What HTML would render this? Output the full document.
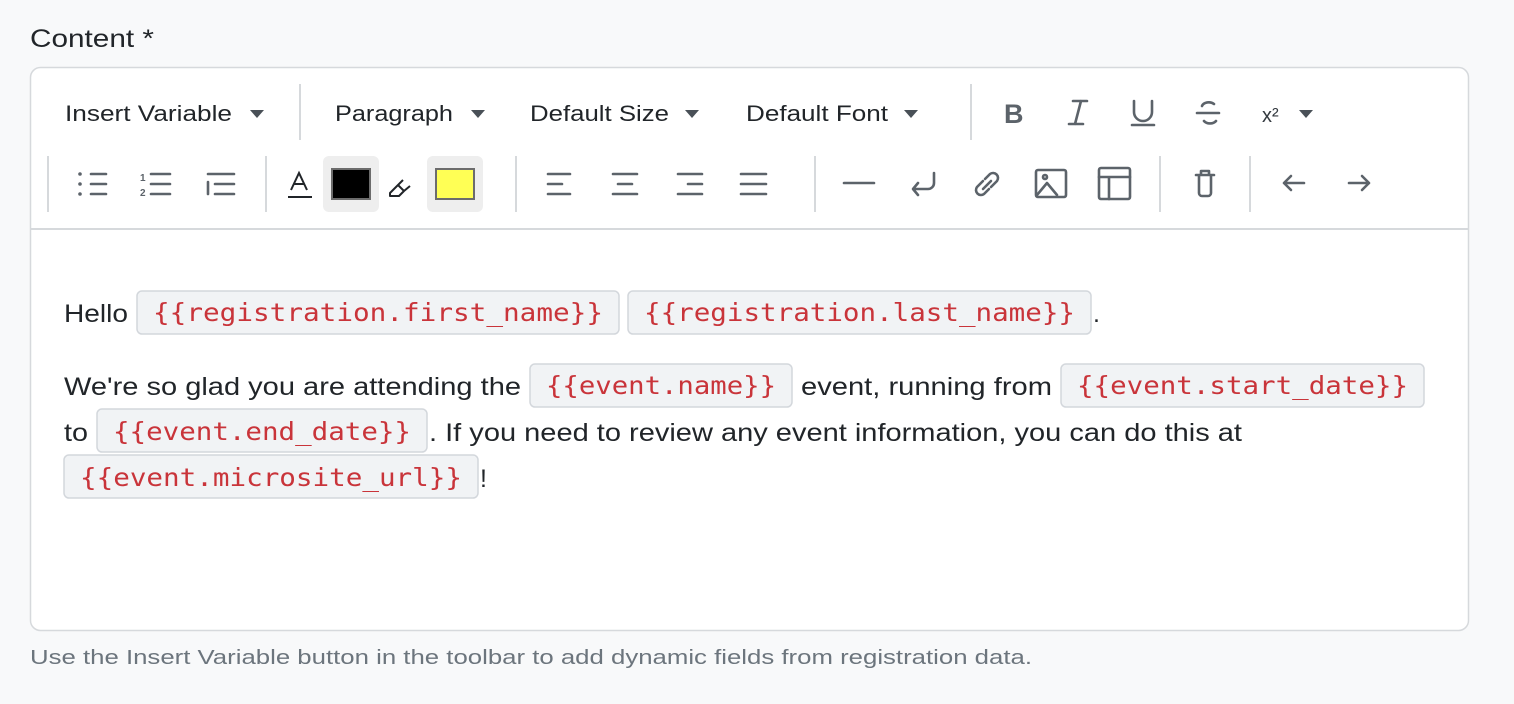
<!DOCTYPE html>
<html><head><meta charset="utf-8"><style>
html,body{margin:0;padding:0;background:#f8f9fa;}
svg{display:block;}
.t{font-family:"Liberation Sans",sans-serif;fill:#212529;}
.m{font-family:"DejaVu Sans Mono","Liberation Mono",monospace;fill:#c9343a;font-size:25px;}
.ic{stroke:#5c636a;stroke-width:2.6;fill:none;stroke-linecap:round;stroke-linejoin:round;}
.sep{stroke:#d6d9dc;stroke-width:2;}
.chip{fill:#f1f3f5;stroke:#d3d7dc;stroke-width:1.5;}
.cr{fill:#495057;}
</style></head><body>
<svg width="1514" height="704" viewBox="0 0 1514 704" xmlns="http://www.w3.org/2000/svg">
<text class="t" x="30" y="47" font-size="25" textLength="124" lengthAdjust="spacingAndGlyphs">Content *</text>
<rect x="30.5" y="67.5" width="1438" height="563" rx="10" fill="#fff" stroke="#d6d9dc" stroke-width="1.5"/>
<line x1="31" y1="229" x2="1468" y2="229" stroke="#d6d9dc" stroke-width="2"/>

<!-- row 1 -->
<g font-size="22">
<text class="t" x="65" y="121" textLength="167" lengthAdjust="spacingAndGlyphs">Insert Variable</text>
<text class="t" x="335" y="121" textLength="118" lengthAdjust="spacingAndGlyphs">Paragraph</text>
<text class="t" x="530" y="121" textLength="139" lengthAdjust="spacingAndGlyphs">Default Size</text>
<text class="t" x="746" y="121" textLength="142" lengthAdjust="spacingAndGlyphs">Default Font</text>
</g>
<path class="cr" d="M250 110h14l-7 8z M471 110h14l-7 8z M685 110h14l-7 8z M904 110h14l-7 8z M1299 110h14l-7 8z"/>
<line class="sep" x1="300" y1="84" x2="300" y2="140"/>
<line class="sep" x1="971" y1="84" x2="971" y2="140"/>
<text x="1004" y="123" font-family="Liberation Sans,sans-serif" font-weight="bold" font-size="27" fill="#5c636a">B</text>
<path class="ic" d="M1073 101h14M1069 124h14M1081 101l-6 23"/>
<path class="ic" d="M1134 101v11a9 9 0 0 0 18 0v-11M1132 125h22"/>
<path class="ic" d="M1214 104a7 5 0 0 0-12 2M1197 113h22M1204 121a7 5 0 0 0 12 0"/>
<text x="1262" y="122" font-family="Liberation Sans,sans-serif" font-size="20" fill="#343a40">x²</text>

<!-- row 2 -->
<line class="sep" x1="48" y1="156" x2="48" y2="212"/>
<g class="ic">
<path d="M91 174h15M91 184h15M91 194h15"/>
<path d="M151 174h19M151 184h19M151 194h19"/>
<path d="M208 174h26M215 184h19M215 194h19M208 182v12"/>
</g>
<g fill="#5c636a"><circle cx="80" cy="174" r="1.8"/><circle cx="80" cy="184" r="1.8"/><circle cx="80" cy="194" r="1.8"/></g>
<text x="140" y="181" font-family="Liberation Sans,sans-serif" font-size="10" font-weight="bold" fill="#5c636a">1</text>
<text x="140" y="196" font-family="Liberation Sans,sans-serif" font-size="10" font-weight="bold" fill="#5c636a">2</text>
<line class="sep" x1="266" y1="156" x2="266" y2="212"/>
<path d="M291 190l8-17 8 17M294 184h10M288 197h24" stroke="#212529" stroke-width="2" fill="none"/>
<rect x="323" y="156" width="56" height="56" rx="6" fill="#eeeeee"/>
<rect x="332" y="169" width="38" height="30" fill="#000" stroke="#6c6c6c" stroke-width="2"/>
<path d="M390 193l8-8 6 6-5 5h-9zM398 185l5-5M404 191l6-5" stroke="#212529" stroke-width="2" fill="none" stroke-linejoin="round"/>
<rect x="427" y="156" width="56" height="56" rx="6" fill="#eeeeee"/>
<rect x="436" y="169" width="38" height="30" fill="#ffff55" stroke="#6c6c6c" stroke-width="2"/>
<line class="sep" x1="516" y1="156" x2="516" y2="212"/>
<g class="ic">
<path d="M548 174h22M548 184h14M548 194h22"/>
<path d="M613 174h24M618 184h14M613 194h24"/>
<path d="M678 174h24M688 184h14M678 194h24"/>
<path d="M741 174h25M741 184h25M741 194h25"/>
</g>
<line class="sep" x1="815" y1="156" x2="815" y2="212"/>
<g class="ic">
<path d="M844 183h30"/>
<path d="M934 173v10a6 6 0 0 1-6 6h-14M918 183l-5 6 5 6"/>
<path d="M983 181l-6 6a5 5 0 0 0 7 7l5-5M991 187l6-6a5 5 0 0 0-7-7l-5 5M983 189l8-8"/>
<rect x="1036" y="170" width="30" height="27" rx="2"/>
<path d="M1037 195l10-12 10 12"/><circle cx="1045" cy="177" r="2"/>
<rect x="1099" y="168" width="31" height="31" rx="2"/>
<path d="M1099 177h31M1109 177v22"/>
<path d="M1196 175h18M1201 175v-4h8v4M1199 176v17a3 3 0 0 0 3 3h6a3 3 0 0 0 3-3v-17"/>
<path d="M1284 183h20M1291 176l-7 7 7 7"/>
<path d="M1349 183h20M1362 176l7 7-7 7"/>
</g>
<line class="sep" x1="1160" y1="156" x2="1160" y2="212"/>
<line class="sep" x1="1250" y1="156" x2="1250" y2="212"/>

<!-- content -->
<g font-size="25">
<text class="t" x="64" y="322" textLength="64" lengthAdjust="spacingAndGlyphs">Hello</text>
<rect class="chip" x="137" y="291" width="482" height="43" rx="5"/>
<text class="m" x="153" y="321" textLength="450" lengthAdjust="spacingAndGlyphs">{{registration.first_name}}</text>
<rect class="chip" x="628" y="291" width="463" height="43" rx="5"/>
<text class="m" x="644" y="321" textLength="431" lengthAdjust="spacingAndGlyphs">{{registration.last_name}}</text>
<text class="t" x="1093" y="322">.</text>

<text class="t" x="64" y="395" textLength="457" lengthAdjust="spacingAndGlyphs">We're so glad you are attending the</text>
<rect class="chip" x="530" y="364" width="262" height="43" rx="5"/>
<text class="m" x="546" y="394" textLength="230" lengthAdjust="spacingAndGlyphs">{{event.name}}</text>
<text class="t" x="801" y="395" textLength="251" lengthAdjust="spacingAndGlyphs">event, running from</text>
<rect class="chip" x="1061" y="364" width="363" height="43" rx="5"/>
<text class="m" x="1077" y="394" textLength="331" lengthAdjust="spacingAndGlyphs">{{event.start_date}}</text>

<text class="t" x="64" y="441" textLength="24" lengthAdjust="spacingAndGlyphs">to</text>
<rect class="chip" x="97" y="409" width="330" height="43" rx="5"/>
<text class="m" x="113" y="440" textLength="298" lengthAdjust="spacingAndGlyphs">{{event.end_date}}</text>
<text class="t" x="429" y="441" textLength="813" lengthAdjust="spacingAndGlyphs">. If you need to review any event information, you can do this at</text>

<rect class="chip" x="64" y="455" width="414" height="43" rx="5"/>
<text class="m" x="80" y="486" textLength="382" lengthAdjust="spacingAndGlyphs">{{event.microsite_url}}</text>
<text class="t" x="480" y="487">!</text>
</g>

<text x="30" y="664" font-family="Liberation Sans,sans-serif" font-size="20" fill="#6c757d" textLength="1002" lengthAdjust="spacingAndGlyphs">Use the Insert Variable button in the toolbar to add dynamic fields from registration data.</text>
</svg>
</body></html>
